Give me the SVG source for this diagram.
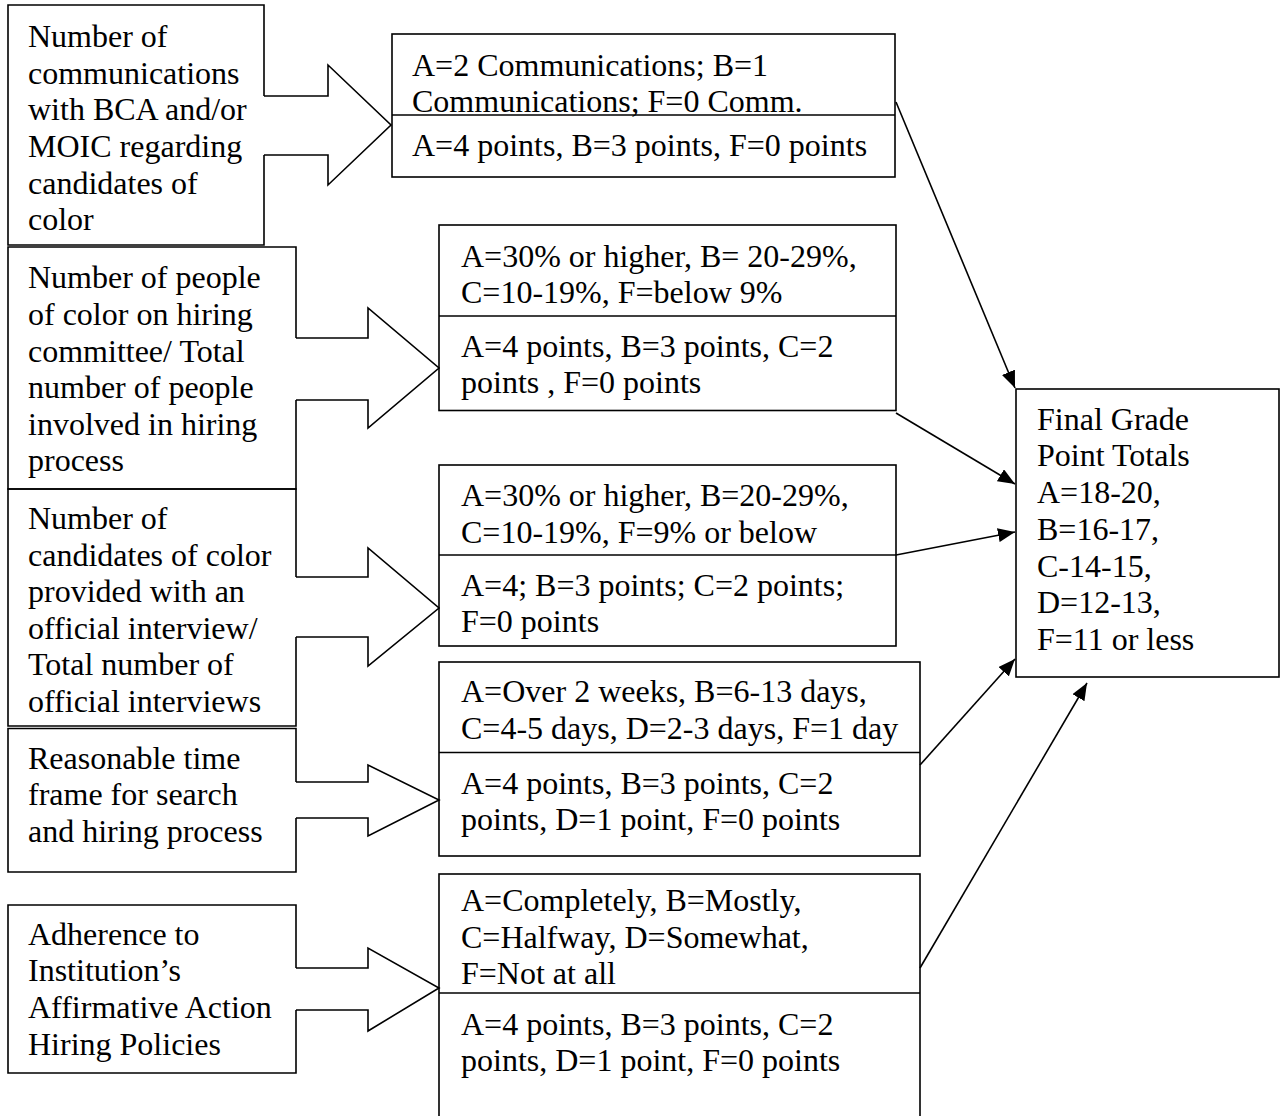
<svg xmlns="http://www.w3.org/2000/svg" width="1281" height="1116" viewBox="0 0 1281 1116">
<style>
.t{font-family:"Liberation Serif","Times New Roman",serif;font-size:32px;fill:#000}
.b{fill:none;stroke:#000;stroke-width:1.6}
.bx{fill:#fff;stroke:#000;stroke-width:1.6}
.c{fill:none;stroke:#000;stroke-width:1.6}
.ar{fill:#fff;stroke:#000;stroke-width:1.6;stroke-linejoin:miter}
</style>
<defs>
<marker id="ah" markerUnits="userSpaceOnUse" markerWidth="18" markerHeight="14" refX="17" refY="7" orient="auto">
<path d="M0,0 L17,7 L0,14 z" fill="#000"/>
</marker>
</defs>
<rect width="1281" height="1116" fill="#fff"/>

<g id="node-l1">
<path class="b" d="M264,96 V5 H8 V245 H264 V155"/>
<text class="t"><tspan x="28" y="46.5">Number of</tspan><tspan x="28" y="83.5">communications</tspan><tspan x="28" y="120">with BCA and/or</tspan><tspan x="28" y="156.5">MOIC regarding</tspan><tspan x="28" y="193.5">candidates of</tspan><tspan x="28" y="229.5">color</tspan></text>
</g>
<g id="node-l2">
<path class="b" d="M296,338 V247 H8 V489 H296 V400"/>
<text class="t"><tspan x="28" y="288">Number of people</tspan><tspan x="28" y="325">of color on hiring</tspan><tspan x="28" y="361.5">committee/ Total</tspan><tspan x="28" y="398">number of people</tspan><tspan x="28" y="435">involved in hiring</tspan><tspan x="28" y="471">process</tspan></text>
</g>
<g id="node-l3">
<path class="b" d="M296,577 V489 H8 V726 H296 V637"/>
<text class="t"><tspan x="28" y="529">Number of</tspan><tspan x="28" y="566">candidates of color</tspan><tspan x="28" y="602">provided with an</tspan><tspan x="28" y="639">official interview/</tspan><tspan x="28" y="675">Total number of</tspan><tspan x="28" y="712">official interviews</tspan></text>
</g>
<g id="node-l4">
<path class="b" d="M296,782 V728.5 H8 V872 H296 V818"/>
<text class="t"><tspan x="28" y="769">Reasonable time</tspan><tspan x="28" y="805">frame for search</tspan><tspan x="28" y="842">and hiring process</tspan></text>
</g>
<g id="node-l5">
<path class="b" d="M296,968 V905 H8 V1073 H296 V1010"/>
<text class="t"><tspan x="28" y="945">Adherence to</tspan><tspan x="28" y="981">Institution’s</tspan><tspan x="28" y="1018">Affirmative Action</tspan><tspan x="28" y="1055">Hiring Policies</tspan></text>
</g>

<g id="node-r1">
<rect class="bx" x="392" y="34" width="503" height="143"/>
<line class="b" x1="392" y1="115" x2="895" y2="115"/>
<text class="t"><tspan x="412" y="76">A=2 Communications; B=1</tspan><tspan x="412" y="112">Communications; F=0 Comm.</tspan><tspan x="412" y="156">A=4 points, B=3 points, F=0 points</tspan></text>
</g>
<g id="node-r2">
<rect class="bx" x="439" y="225" width="457" height="185.5"/>
<line class="b" x1="439" y1="316" x2="896" y2="316"/>
<text class="t"><tspan x="461" y="267">A=30% or higher, B= 20-29%,</tspan><tspan x="461" y="303">C=10-19%, F=below 9%</tspan><tspan x="461" y="357">A=4 points, B=3 points, C=2</tspan><tspan x="461" y="393">points , F=0 points</tspan></text>
</g>
<g id="node-r3">
<rect class="bx" x="439" y="465" width="457" height="181"/>
<line class="b" x1="439" y1="555" x2="896" y2="555"/>
<text class="t"><tspan x="461" y="506">A=30% or higher, B=20-29%,</tspan><tspan x="461" y="543">C=10-19%, F=9% or below</tspan><tspan x="461" y="596">A=4; B=3 points; C=2 points;</tspan><tspan x="461" y="632">F=0 points</tspan></text>
</g>
<g id="node-r4">
<rect class="bx" x="439" y="662" width="481" height="194"/>
<line class="b" x1="439" y1="752.5" x2="920" y2="752.5"/>
<text class="t"><tspan x="461" y="702">A=Over 2 weeks, B=6-13 days,</tspan><tspan x="461" y="739">C=4-5 days, D=2-3 days, F=1 day</tspan><tspan x="461" y="794">A=4 points, B=3 points, C=2</tspan><tspan x="461" y="830">points, D=1 point, F=0 points</tspan></text>
</g>
<g id="node-r5">
<rect class="bx" x="439" y="874" width="481" height="260"/>
<line class="b" x1="439" y1="993" x2="920" y2="993"/>
<text class="t"><tspan x="461" y="911">A=Completely, B=Mostly,</tspan><tspan x="461" y="947.5">C=Halfway, D=Somewhat,</tspan><tspan x="461" y="984">F=Not at all</tspan><tspan x="461" y="1035">A=4 points, B=3 points, C=2</tspan><tspan x="461" y="1071">points, D=1 point, F=0 points</tspan></text>
</g>
<g id="node-final">
<rect class="bx" x="1016" y="389" width="263" height="288"/>
<text class="t"><tspan x="1037" y="430">Final Grade</tspan><tspan x="1037" y="466">Point Totals</tspan><tspan x="1037" y="503">A=18-20,</tspan><tspan x="1037" y="540">B=16-17,</tspan><tspan x="1037" y="577">C-14-15,</tspan><tspan x="1037" y="613">D=12-13,</tspan><tspan x="1037" y="650">F=11 or less</tspan></text>
</g>

<g id="connectors">
<polyline class="ar" points="264,96 328,96 328,65 391,125 328,185 328,155 264,155"/>
<polyline class="ar" points="296,338 368,338 368,308 439,368 368,428 368,400 296,400"/>
<polyline class="ar" points="296,577 368,577 368,548 439,608 368,666 368,637 296,637"/>
<polyline class="ar" points="296,782 368,782 368,765 439,800 368,836 368,818 296,818"/>
<polyline class="ar" points="296,968 368,968 368,948 439,988 368,1031 368,1010 296,1010"/>
<line class="c" x1="896" y1="102" x2="1015" y2="388" marker-end="url(#ah)"/>
<line class="c" x1="896" y1="413" x2="1015" y2="484" marker-end="url(#ah)"/>
<line class="c" x1="896" y1="555" x2="1015" y2="532" marker-end="url(#ah)"/>
<line class="c" x1="920" y1="765" x2="1015" y2="659" marker-end="url(#ah)"/>
<line class="c" x1="920" y1="968" x2="1087" y2="683" marker-end="url(#ah)"/>
</g>
</svg>
